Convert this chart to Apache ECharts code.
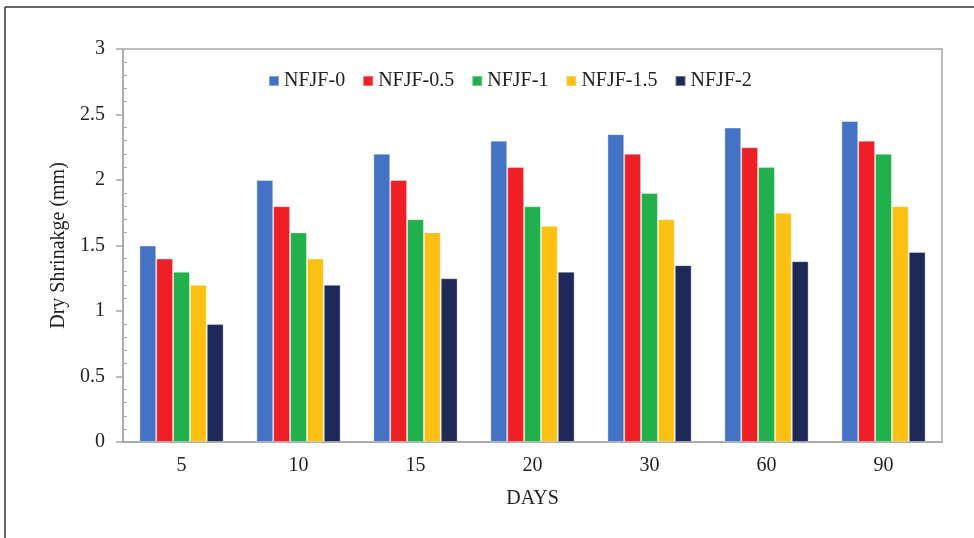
<!DOCTYPE html>
<html>
<head>
<meta charset="utf-8">
<script src="https://cdn.jsdelivr.net/npm/echarts@6/dist/echarts.min.js"></script>
<style>html,body{margin:0;padding:0;background:#fff;}#c{width:974px;height:538px;}</style>
</head>
<body>
<div id="c"></div>
<script>
const categories = ['5', '10', '15', '20', '30', '60', '90'];
const seriesNames = ['NFJF-0', 'NFJF-0.5', 'NFJF-1', 'NFJF-1.5', 'NFJF-2'];
const nfjf0 = [1.5, 2.0, 2.2, 2.3, 2.35, 2.4, 2.45];
const nfjf05 = [1.4, 1.8, 2.0, 2.1, 2.2, 2.25, 2.3];
const nfjf1 = [1.3, 1.6, 1.7, 1.8, 1.9, 2.1, 2.2];
const nfjf15 = [1.2, 1.4, 1.6, 1.65, 1.7, 1.75, 1.8];
const nfjf2 = [0.9, 1.2, 1.25, 1.3, 1.35, 1.38, 1.45];
const colors = ['#4472C4', '#EE1F25', '#21B04B', '#FBC011', '#1E2859'];
const values = [nfjf0, nfjf05, nfjf1, nfjf15, nfjf2];

const font = 'Liberation Serif';
const chart = echarts.init(document.getElementById('c'));
chart.setOption({
  animation: false,
  backgroundColor: '#fff',
  color: colors,
  graphic: [
    { type: 'line', shape: { x1: 5, y1: 7, x2: 974, y2: 7 }, style: { stroke: '#333', lineWidth: 1.5 } },
    { type: 'line', shape: { x1: 5, y1: 7, x2: 5, y2: 538 }, style: { stroke: '#333', lineWidth: 1.5 } }
  ],
  legend: {
    top: 66,
    left: 263,
    itemWidth: 10,
    itemHeight: 10,
    itemGap: 17,
    itemTextGap: 5,
    icon: 'rect',
    textStyle: { fontFamily: font, fontSize: 20, color: '#222' },
    data: seriesNames
  },
  grid: {
    left: 123, right: 32, top: 49, bottom: 96,
    show: true, borderColor: '#A6A6A6', borderWidth: 1.5
  },
  xAxis: {
    type: 'category',
    data: categories,
    name: 'DAYS',
    nameLocation: 'middle',
    nameGap: 47,
    nameTextStyle: { fontFamily: font, fontSize: 20, color: '#222' },
    axisLine: { lineStyle: { color: '#A6A6A6', width: 1.5 } },
    axisTick: { show: false },
    axisLabel: { fontFamily: font, fontSize: 20, color: '#222', margin: 14 }
  },
  yAxis: {
    type: 'value',
    min: 0, max: 3, interval: 0.5,
    name: 'Dry Shrinakge (mm)',
    nameLocation: 'middle',
    nameGap: 48,
    nameTextStyle: { fontFamily: font, fontSize: 20, color: '#222' },
    axisLine: { show: true, lineStyle: { color: '#A6A6A6', width: 1.5 } },
    axisTick: { show: true, length: 7, lineStyle: { color: '#A6A6A6', width: 1.5 } },
    minorTick: { show: true, splitNumber: 5, length: -4, lineStyle: { color: '#A6A6A6', width: 1 } },
    splitLine: { show: false },
    axisLabel: { fontFamily: font, fontSize: 20, color: '#222', margin: 18 }
  },
  series: values.map((v, i) => ({
    name: seriesNames[i],
    type: 'bar',
    data: v,
    barGap: '0%',
    barCategoryGap: '28%',
    itemStyle: { color: colors[i], borderColor: 'rgba(255,255,255,0.35)', borderWidth: 1 }
  }))
});
</script>
</body>
</html>
